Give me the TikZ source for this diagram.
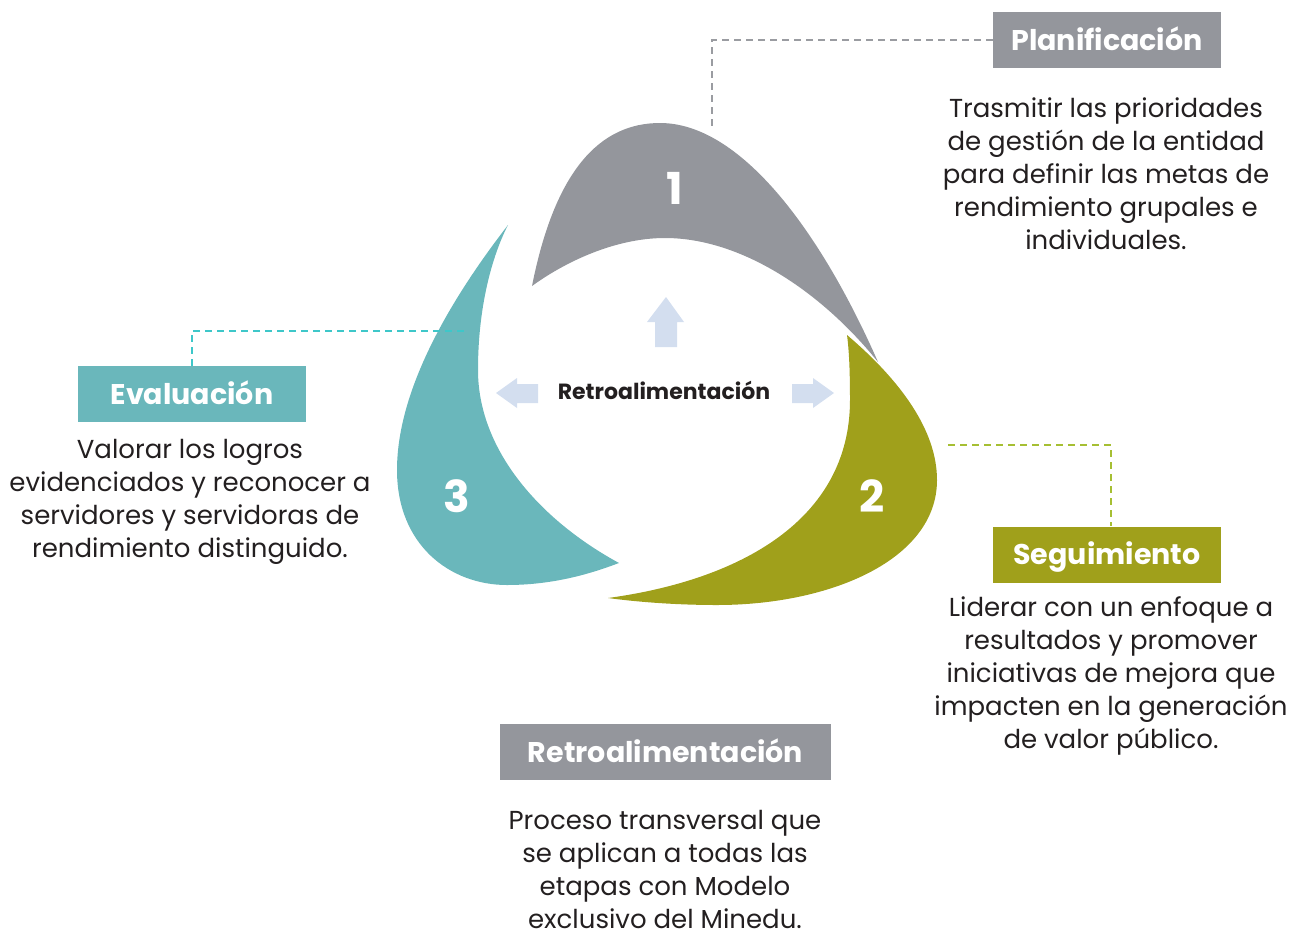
\documentclass[tikz,border=0pt]{standalone}
\usepackage{fontspec}
\setmainfont{Poppins}
\definecolor{cgray}{HTML}{94969C}
\definecolor{cteal}{HTML}{6AB7BB}
\definecolor{colive}{HTML}{A0A01B}
\definecolor{carrow}{HTML}{D3DEEF}
\definecolor{ctext}{HTML}{231F20}
\definecolor{dgray}{HTML}{9A9CA1}
\definecolor{dteal}{HTML}{3EC7C9}
\definecolor{dolive}{HTML}{A6BF33}
\tikzset{
  labelbox/.style={fill=#1, text=white, font=\fontsize{28.5}{32}\selectfont\bfseries,
    minimum width=228, minimum height=56, inner sep=0, text height=20, text depth=0},
  desc/.style={text=ctext, font=\fontsize{26}{33}\selectfont, align=center, inner sep=0, anchor=north},
  num/.style={text=white, font=\fontsize{44}{44}\selectfont\bfseries, inner sep=0, text height=31, text depth=0},
  conn/.style={draw=#1, line width=2.5pt, dash pattern=on 7pt off 5pt},
  blade/.style={fill=#1, draw=none},
  fbarrow/.style={fill=carrow, draw=none}
}
\begin{document}
\begin{tikzpicture}[x=1pt,y=-1pt]
\useasboundingbox (0,0) rectangle (1301,930);

% blades
\path[blade=cgray] (532,286) .. controls (555,170) and (600,123) .. (660,123)
  .. controls (740,123) and (820,230) .. (878,362)
  .. controls (820,290) and (740,238) .. (665,238)
  .. controls (615,238) and (565,262) .. (532,286) -- cycle;
\path[blade=colive] (847,335) .. controls (900,380) and (937,430) .. (937,480)
  .. controls (937,560) and (830,605) .. (717,605)
  .. controls (670,605) and (630,601) .. (608,598)
  .. controls (740,580) and (850,520) .. (850,400)
  .. controls (850,370) and (849,350) .. (847,335) -- cycle;
\path[blade=cteal] (508,225) .. controls (450,300) and (397,390) .. (397,470)
  .. controls (397,545) and (450,585) .. (507,585)
  .. controls (560,585) and (600,570) .. (619,563)
  .. controls (540,520) and (478,450) .. (478,370)
  .. controls (478,300) and (495,250) .. (508,225) -- cycle;

\node[num] (n1) at (675,189) {1};
\node[num] (n2) at (872,497) {2};
\node[num] (n3) at (457,497) {3};

% feedback arrows
\path[fbarrow] (666,297) -- (684,322) -- (677,322) -- (677,347) -- (655,347) -- (655,322) -- (647,322) -- cycle;
\path[fbarrow] (496,393) -- (517,378) -- (517,384) -- (538,384) -- (538,403) -- (517,403) -- (517,408) -- cycle;
\path[fbarrow] (834,393) -- (813,378) -- (813,384) -- (792,384) -- (792,403) -- (813,403) -- (813,408) -- cycle;
\node[text=ctext, font=\fontsize{22}{24}\selectfont\bfseries, inner sep=0, text height=15.5, text depth=0] (center) at (664,392) {Retroalimentación};

% label boxes
\node[labelbox=cgray] (plan) at (1107,40) {Planificación};
\node[labelbox=cteal] (eval) at (192,394) {Evaluación};
\node[labelbox=colive] (seg) at (1107,554.5) {Seguimiento};
\node[labelbox=cgray, minimum width=331] (retro) at (665.5,752) {Retroalimentación};

% descriptions
\node[desc] (plandesc) at (1106,93.9) {\strut Trasmitir las prioridades\\de gestión de la entidad\\para definir las metas de\\rendimiento grupales e\\individuales.};
\node[desc] (evaldesc) at (190,434.9) {\strut Valorar los logros\\evidenciados y reconocer a\\servidores y servidoras de\\rendimiento distinguido.};
\node[desc] (segdesc) at (1111,592.9) {\strut Liderar con un enfoque a\\resultados y promover\\iniciativas de mejora que\\impacten en la generación\\de valor público.};
\node[desc] (retrodesc) at (665,805.9) {\strut Proceso transversal que\\se aplican a todas las\\etapas con Modelo\\exclusivo del Minedu.};

% connectors
\coordinate (c1) at (712,130);
\coordinate (c3) at (466,331);
\coordinate (c2) at (948,445);
\coordinate (s2) at (1111,526);
\draw[conn=dgray] (plan.west) -| (c1);
\draw[conn=dteal] (eval.north) |- (c3);
\draw[conn=dolive] (c2) -| (s2);
\end{tikzpicture}
\end{document}
